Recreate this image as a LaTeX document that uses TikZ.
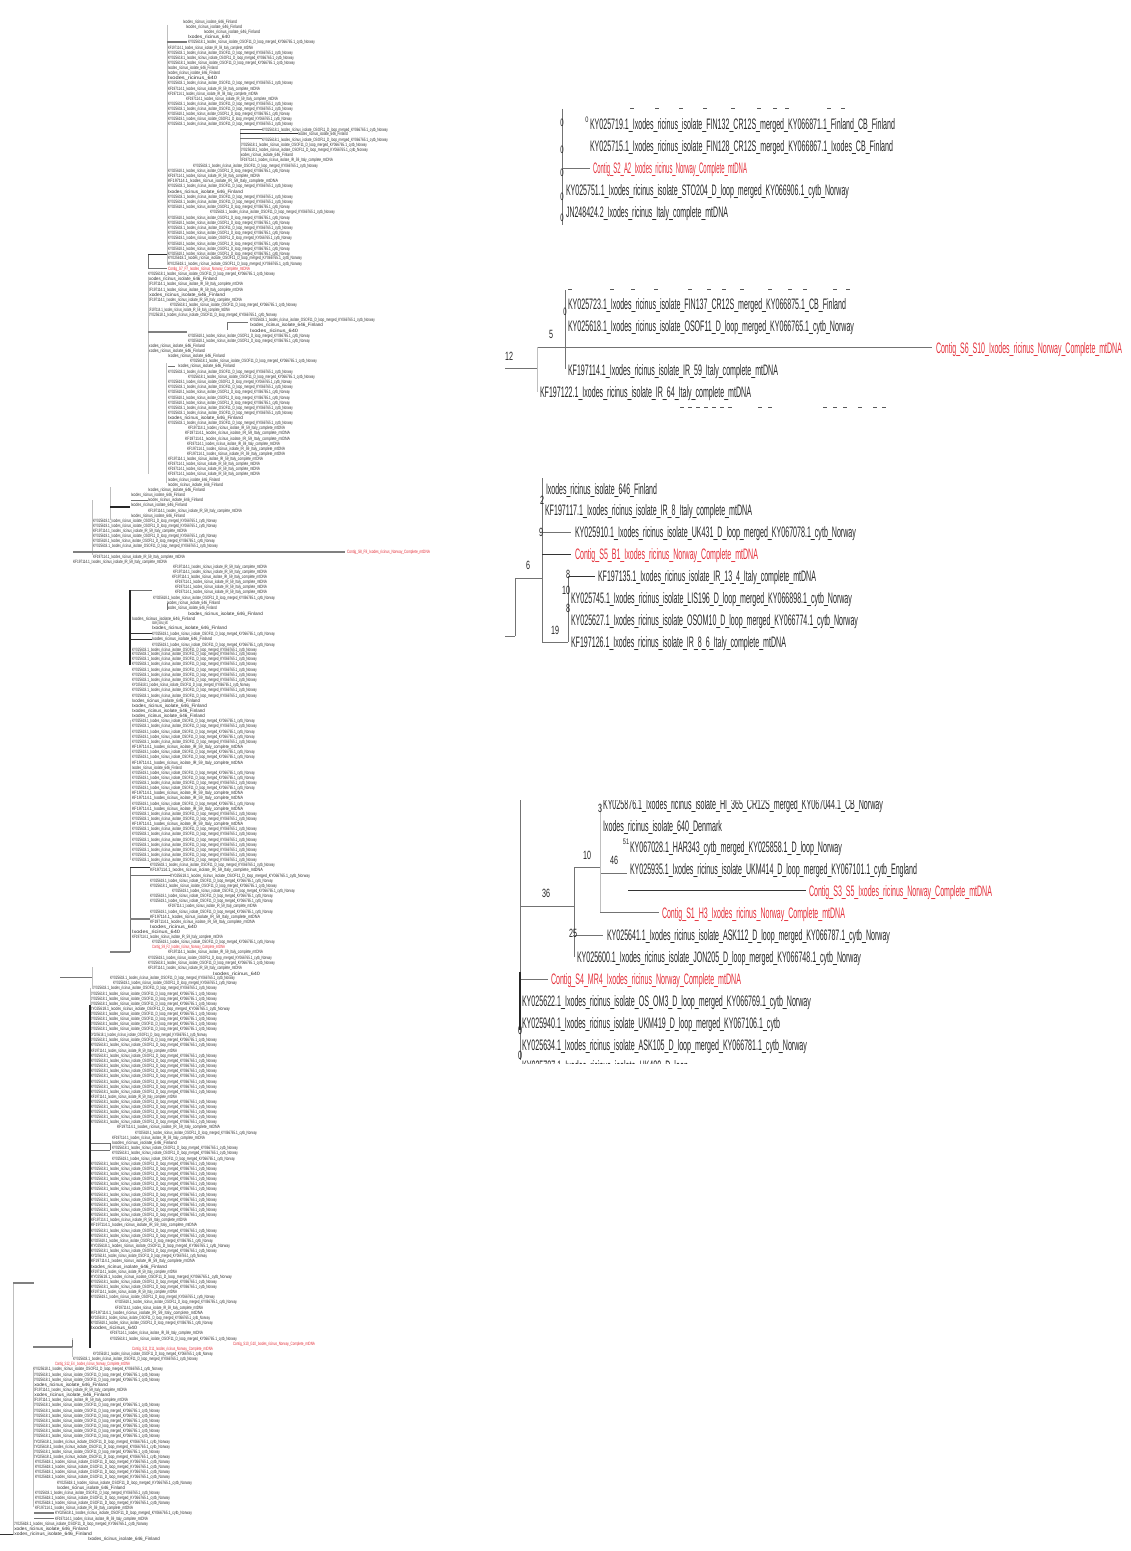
\documentclass[tikz,border=0pt]{standalone}
\usepackage{graphicx}
\usepackage{fontspec}
\setmainfont{Liberation Sans}
\definecolor{redlab}{HTML}{E5303A}
\definecolor{tinygray}{HTML}{303030}
\tikzset{
  leafnode/.style={anchor=base west,inner sep=0pt,outer sep=0pt,text=#1},
  leafnode/.default=black!85,
  numlab/.style={inner sep=0pt,text=black!85,font=\fontsize{12}{12}\selectfont},
  smallnum/.style={inner sep=0pt,text=black!85,font=\fontsize{8}{8}\selectfont},
  bigline/.style={draw=black!55,line width=1bp},
  darkline/.style={draw=black!80,line width=1bp},
  faintline/.style={draw=black!25,line width=.7bp},
  thickgray/.style={draw=black!50,line width=1.4bp},
  thickdark/.style={draw=black!85,line width=1.4bp},
  cutmark/.style={draw=black!65,line width=.9bp},
}
% big readable leaf: name, xstart, xend, y, colour, text
\newcommand{\bigleaf}[6]{%
  \pgfmathsetmacro{\wdw}{#3-#2}%
  \node[leafnode=#5] (#1) at (#2,#4+5.5) {\resizebox{\wdw bp}{11bp}{#6}};}
% tiny rows: y/xstart/xend
\newcommand{\tinyrows}[2]{%
  \foreach \yy/\xa/\xb [count=\cnt] in {#2} {%
    \pgfmathsetmacro{\wdw}{\xb-\xa}%
    \pgfmathtruncatemacro{\wkind}{\wdw<50 ? 0 : (\wdw<80 ? 1 : (\wdw<115 ? 2 : 3))}%
    \node[leafnode=tinygray] (#1\cnt) at (\xa,\yy+1.7) {\resizebox{\wdw bp}{3.4bp}{%
      \ifcase\wkind Ixodes\_ricinus\_640\or
      Ixodes\_ricinus\_isolate\_646\_Finland\or
      KF197114.1\_Ixodes\_ricinus\_isolate\_IR\_59\_Italy\_complete\_mtDNA\else
      KY025618.1\_Ixodes\_ricinus\_isolate\_OSOF11\_D\_loop\_merged\_KY066765.1\_cytb\_Norway\fi}};}}
% tiny red rows: y/xstart/xend/contig
\newcommand{\tinyred}[2]{%
  \foreach \yy/\xa/\xb/\cg [count=\cnt] in {#2} {%
    \pgfmathsetmacro{\wdw}{\xb-\xa}%
    \node[leafnode=redlab] (#1\cnt) at (\xa,\yy+1.7) {\resizebox{\wdw bp}{3.4bp}{Contig\_\cg\_Ixodes\_ricinus\_Norway\_Complete\_mtDNA}};}}
% connector list: x1/y1/x2/y2
\newcommand{\links}[3]{%
  \foreach \xa/\ya/\xb/\yb [count=\cnt] in {#3} {%
    \coordinate (#1a\cnt) at (\xa,\ya);\coordinate (#1b\cnt) at (\xb,\yb);
    \draw[#2] (#1a\cnt) -- (#1b\cnt);}}
\begin{document}
\begin{tikzpicture}[x=1bp,y=-1bp]
\useasboundingbox (0,0) rectangle (1130,1551);
\fill[white] (0,0) rectangle (1130,1551);

% ---------- left column: tiny rows ----------
\tinyrows{t}{
21.7/183/237, 26.7/186/242, 31.7/204/260, 36.7/188/230, 42/188/315, 47.7/168/253, 52.7/168/293, 58/168/294, 63/168/295,
68.3/168/218, 73.3/168/220, 78.3/168/217, 83.3/168/293, 88.7/168/260, 93.7/168/258, 99/186/278, 104/168/293, 109.3/168/293,
114.3/168/290, 119.3/168/292, 124.3/168/293, 129.7/262/388, 134.3/298/348, 139.7/262/388, 145/240/367, 150.3/240/368,
155.3/240/293, 160.3/240/333, 165.7/193/318, 170.7/168/290, 175.7/168/260, 180.7/168/278, 186/168/293, 191.3/168/243,
196.7/168/293, 201.7/168/293, 206.7/168/290, 211.7/210/335, 217.3/168/290, 222.3/168/290, 227.7/168/293, 232.7/168/290,
238/168/292, 243.3/168/290, 248.3/168/290, 253.3/168/290, 258/168/302, 263.3/168/302,
273.3/148/275, 278.7/148/217, 284/148/243, 289.3/148/243, 294.3/148/225, 299.7/148/242, 304.7/170/297, 309.7/148/230,
315/148/277, 320/250/375, 325/250/323, 330.3/250/298, 335.3/188/310, 340.7/188/310, 345.7/148/205, 350.7/148/205,
356/168/225, 361/190/317, 366/178/235, 371.3/168/293, 376.7/188/315, 381.7/168/292, 387/168/293, 392/168/290, 397.3/168/290,
402.3/168/290, 407.3/168/293, 412.3/168/293, 417.7/168/243, 422.7/168/293, 427.7/188/285, 433/185/290, 438.3/185/290,
443.3/187/280, 448.7/187/285, 453.7/187/285, 458.7/168/263, 464/168/260, 469/168/260, 474/168/260, 479.3/168/220, 484.3/168/223,
489.7/148/205, 494.7/131/185, 500/148/203, 505/131/187, 510.3/148/242, 515.7/131/185, 520.7/93/217, 525.7/93/217, 530.7/93/187,
536/93/217, 541/93/215, 546/93/218, 556.7/93/185, 561.7/73/167,
566.7/173/267, 571.7/173/267, 576.7/172/267, 581.7/175/267, 586.7/175/267, 592/175/267, 597.7/153/275, 603/167/220, 608/167/217,
613.7/188/263, 618.3/132/195, 623/152/168, 628/152/227, 633.7/152/275, 639/152/212, 644.3/152/275, 649.3/132/257, 654/132/257,
659/132/257, 664/132/257, 669.7/132/257, 674.3/132/257, 679.7/132/257, 685/132/250, 690/132/257, 695.7/132/257, 700.7/132/200,
705.7/132/207, 711/132/205, 716/132/205, 721/132/255, 726/132/257, 731.3/132/255, 736.3/132/255, 741.7/132/257, 746.7/132/243,
752/132/255, 757/132/255, 762.3/132/243, 767.3/132/182, 772.3/132/255, 777.3/132/255, 782.7/132/257, 788/132/255, 793/132/243,
798/132/243, 803.3/132/255, 808.3/132/243, 813.7/132/257, 818.7/132/257, 824/132/243, 829/132/257, 834/132/257, 839.3/132/257,
844.3/132/257, 849.7/132/257, 854.7/132/257, 859.7/132/257,
865/150/275, 870/150/263, 875.3/170/310, 880.7/150/273, 885.7/150/277, 891/172/295, 895.7/150/273, 900.7/150/273, 906/168/257,
911.3/150/273, 916.3/150/260, 921.7/150/255, 926.7/150/197, 932/132/180, 937/132/223, 942/152/275, 952/168/263, 957.3/148/272,
962.3/148/275, 967.3/148/242, 973.3/213/260, 978/110/235, 983/113/237,
988/92/217, 993.3/90/217, 998.3/90/217, 1003.7/90/217, 1008.7/90/230, 1014/90/217, 1019/90/217, 1024/90/217, 1029/90/217,
1034.3/90/207, 1039.7/90/217, 1045/91/217, 1050.3/91/177, 1055.7/91/217, 1060.7/91/217, 1066/91/217, 1071/91/217, 1076/91/217,
1081.3/91/217, 1086.3/91/217, 1091.7/91/217, 1096.7/91/177, 1102/91/217, 1106.7/91/217, 1112/91/217, 1117/91/217, 1122/91/217,
1127/117/220, 1132.3/135/257, 1137.7/112/205, 1142.7/112/177, 1148/112/238, 1153/112/238, 1158.3/112/235, 1163.7/91/217,
1168.3/91/217, 1173.3/91/217, 1178.7/91/217, 1183.7/91/217, 1189/91/217, 1194.3/91/217, 1199.3/91/217, 1204.3/91/217,
1209.7/91/217, 1214.7/91/217, 1220/91/187, 1225/91/197, 1230.3/91/217, 1235.3/91/217, 1240.3/91/213, 1245.7/91/230, 1250.7/91/217,
1256/91/207, 1261/91/195, 1266.3/91/167, 1271.7/91/177, 1276.7/91/232, 1282/91/217, 1287/91/217, 1292/91/177, 1297/91/215,
1302/115/237, 1307.3/115/203, 1312.3/91/203, 1317.7/91/210, 1322.7/91/213, 1327.7/91/137, 1333/110/203, 1338.3/110/237,
1353.3/93/213, 1358.7/73/198, 1369/33/163, 1374.3/33/160, 1379.3/33/160, 1384.3/33/108, 1389.7/33/127, 1395/33/110, 1400/33/128,
1405/33/160, 1410.3/33/160, 1415.3/33/160, 1420.7/33/160, 1425.7/33/160, 1431/33/160, 1436/33/160, 1441.3/33/170, 1446.3/33/170,
1451.3/33/160, 1456.7/33/170, 1461.7/35/170, 1466.7/35/170, 1472/35/170, 1477/35/170, 1482.3/57/192, 1487.3/57/125, 1492.7/35/160,
1497.3/35/170, 1502.3/35/170, 1507.7/35/133, 1513/55/192, 1518.3/55/148, 1523.7/13/148, 1528.7/13/88, 1534/13/92, 1539/88/160
}
\tinyred{v}{
268.3/168/250/S7\_F7, 552/347/430/S8\_F8, 947/152/225/S9\_F2, 1343.3/233/315/S10\_G10, 1348.3/132/213/S11\_D11, 1363.7/55/130/S12\_E4
}

% ---------- left column: branches ----------
\links{fa}{faintline}{167/25/167/265, 148/277/148/474, 166/363/166/483, 110/487/110/520, 92/500/92/555, 130/720/130/860, 92/967/92/988, 33/1369/33/1507, 13/1283/13/1534, 240/135/240/160, 72/1338/72/1357, 240/129/240/135, 90/988/90/1005}
\links{gl}{bigline}{148/268/167/268, 148/332/166/332, 131/500/148/500, 227/322/248/322, 227/322/227/330, 168/366/175/366, 130/875/170/875, 130/867/130/952, 60/977/92/977, 72/1347/72/1340, 240/130/262/130, 240/139/262/139, 110/1143/90/1143, 110/1150/90/1150, 110/1143/110/1150, 34/1518/54/1518, 167/603/167/610, 130/590/152/590, 148/254/148/268}
\links{tg}{thickgray}{167/42/187/42, 148/332/187/332, 73/552/345/552, 110/952/130/952, 33/1347/72/1347, 34/1513/54/1513, 13/1283/34/1283, 130/919/150/919}
\links{dk}{darkline}{148/254/167/254, 240/134/298/134, 130/633/152/633, 130/639/152/639, 130/867/150/867, 0/1534/13/1534}
\links{th}{thickdark}{110/507/130/507, 130/590/130/665, 90/1005/90/1348}

% ---------- panel 1 ----------
\foreach \xx [count=\cnt] in {632,657,681,705,733,759,775,787,829,843}{
  \coordinate (ua\cnt) at (\xx-2,108.5);\coordinate (ub\cnt) at (\xx+2,108.5);\draw[cutmark] (ua\cnt)--(ub\cnt);}
\bigleaf{p1a}{590}{895}{124}{black!85}{KY025719.1\_Ixodes\_ricinus\_isolate\_FIN132\_CR12S\_merged\_KY066871.1\_Finland\_CB\_Finland}
\bigleaf{p1b}{590}{893}{146}{black!85}{KY025715.1\_Ixodes\_ricinus\_isolate\_FIN128\_CR12S\_merged\_KY066867.1\_Ixodes\_CB\_Finland}
\bigleaf{p1c}{593}{747}{168}{redlab}{Contig\_S2\_A2\_Ixodes\_ricinus\_Norway\_Complete\_mtDNA}
\bigleaf{p1d}{566}{849}{190}{black!85}{KY025751.1\_Ixodes\_ricinus\_isolate\_STO204\_D\_loop\_merged\_KY066906.1\_cytb\_Norway}
\bigleaf{p1e}{566}{728}{212}{black!85}{JN248424.2\_Ixodes\_ricinus\_Italy\_complete\_mtDNA}
\coordinate (p1t) at (562,109);\coordinate (p1u) at (562,225);\coordinate (p1j) at (562,168);\coordinate (p1q) at (590,168);
\draw[bigline] (p1t)--(p1u);
\draw[bigline] (p1j)--(p1q);
\foreach \xx/\yy/\lbl [count=\cnt] in {562/123/0,562/150/0,562/173/0,562/197/0,562/218/0}{
  \node[numlab] (p1n\cnt) at (\xx,\yy) {\scalebox{.5}[.9]{\lbl}};}
\node[smallnum] (p1s) at (587,120) {\scalebox{.7}[1]{0}};

% ---------- panel 2 ----------
\foreach \xx [count=\cnt] in {570,612,633,656,690,709,724,742,770,790,805,835,848}{
  \coordinate (va\cnt) at (\xx-2,289);\coordinate (vb\cnt) at (\xx+2,289);\draw[cutmark] (va\cnt)--(vb\cnt);}
\foreach \xx [count=\cnt] in {682,690,698,706,714,722,730,760,770,825,835,845,860,875,884}{
  \coordinate (wa\cnt) at (\xx-2,407.5);\coordinate (wb\cnt) at (\xx+2,407.5);\draw[cutmark] (wa\cnt)--(wb\cnt);}
\bigleaf{p2a}{568}{846}{304}{black!85}{KY025723.1\_Ixodes\_ricinus\_isolate\_FIN137\_CR12S\_merged\_KY066875.1\_CB\_Finland}
\bigleaf{p2b}{568}{854}{326}{black!85}{KY025618.1\_Ixodes\_ricinus\_isolate\_OSOF11\_D\_loop\_merged\_KY066765.1\_cytb\_Norway}
\bigleaf{p2c}{936}{1122}{348}{redlab}{Contig\_S6\_S10\_Ixodes\_ricinus\_Norway\_Complete\_mtDNA}
\bigleaf{p2d}{568}{778}{370}{black!85}{KF197114.1\_Ixodes\_ricinus\_isolate\_IR\_59\_Italy\_complete\_mtDNA}
\bigleaf{p2e}{540}{751}{392}{black!85}{KF197122.1\_Ixodes\_ricinus\_isolate\_IR\_64\_Italy\_complete\_mtDNA}
\coordinate (p2t) at (565,290);\coordinate (p2u) at (565,369);\coordinate (p2j) at (537,347);\coordinate (p2k) at (537,392);
\coordinate (p2r) at (505,368);\coordinate (p2s) at (537,368);\coordinate (p2e1) at (932,347);
\draw[bigline] (p2t)--(p2u);
\draw[bigline] (p2j)--(p2e1);
\draw[faintline] (p2j)--(p2k);
\draw[bigline] (p2r)--(p2s);
\node[numlab] (p2n1) at (565,312) {\scalebox{.5}[.9]{0}};
\node[numlab] (p2n2) at (551,334) {\scalebox{.6}[1]{5}};
\node[numlab] (p2n3) at (509,356) {\scalebox{.6}[1]{12}};

% ---------- panel 3 ----------
\bigleaf{p3a}{546}{657}{489}{black!85}{Ixodes\_ricinus\_isolate\_646\_Finland}
\bigleaf{p3b}{545}{752}{510}{black!85}{KF197117.1\_Ixodes\_ricinus\_isolate\_IR\_8\_Italy\_complete\_mtDNA}
\bigleaf{p3c}{575}{856}{532}{black!85}{KY025910.1\_Ixodes\_ricinus\_isolate\_UK431\_D\_loop\_merged\_KY067078.1\_cytb\_Norway}
\bigleaf{p3d}{575}{758}{554}{redlab}{Contig\_S5\_B1\_Ixodes\_ricinus\_Norway\_Complete\_mtDNA}
\bigleaf{p3e}{598}{816}{576}{black!85}{KF197135.1\_Ixodes\_ricinus\_isolate\_IR\_13\_4\_Italy\_complete\_mtDNA}
\bigleaf{p3f}{571}{852}{598}{black!85}{KY025745.1\_Ixodes\_ricinus\_isolate\_LIS196\_D\_loop\_merged\_KY066898.1\_cytb\_Norway}
\bigleaf{p3g}{571}{858}{620}{black!85}{KY025627.1\_Ixodes\_ricinus\_isolate\_OSOM10\_D\_loop\_merged\_KY066774.1\_cytb\_Norway}
\bigleaf{p3h}{571}{786}{642}{black!85}{KF197126.1\_Ixodes\_ricinus\_isolate\_IR\_8\_6\_Italy\_complete\_mtDNA}
\links{pt}{bigline}{542/478/542/642, 542/532/571/532, 515/578/542/578, 515/578/515/636, 542/642/568/642, 568/576/568/642, 505/636/515/636}
\links{pk}{darkline}{542/554/571/554, 569/576/595/576}
\foreach \xx/\yy/\lbl [count=\cnt] in {542/500/2,541/532/9,528/565/6,568/574/8,566/590/10,568/608/8,555/630/19}{
  \node[numlab] (p3n\cnt) at (\xx,\yy) {\scalebox{.6}[1]{\lbl}};}

% ---------- panel 4 ----------
\begin{scope}
\clip (500,800) rectangle (1130,1063);
\bigleaf{p4a}{603}{883}{804}{black!85}{KY025876.1\_Ixodes\_ricinus\_isolate\_HI\_365\_CR12S\_merged\_KY067044.1\_CB\_Norway}
\bigleaf{p4m}{522}{688}{1066}{black!85}{KY025787.1\_Ixodes\_ricinus\_isolate\_UK480\_D\_loop}
\end{scope}
\bigleaf{p4b}{603}{722}{826}{black!85}{Ixodes\_ricinus\_isolate\_640\_Denmark}
\bigleaf{p4c}{630}{842}{847}{black!85}{KY067028.1\_HAR343\_cytb\_merged\_KY025858.1\_D\_loop\_Norway}
\bigleaf{p4d}{630}{917}{869}{black!85}{KY025935.1\_Ixodes\_ricinus\_isolate\_UKM414\_D\_loop\_merged\_KY067101.1\_cytb\_England}
\bigleaf{p4e}{809}{992}{891}{redlab}{Contig\_S3\_S5\_Ixodes\_ricinus\_Norway\_Complete\_mtDNA}
\bigleaf{p4f}{662}{845}{913}{redlab}{Contig\_S1\_H3\_Ixodes\_ricinus\_Norway\_Complete\_mtDNA}
\bigleaf{p4g}{607}{890}{935}{black!85}{KY025641.1\_Ixodes\_ricinus\_isolate\_ASK112\_D\_loop\_merged\_KY066787.1\_cytb\_Norway}
\bigleaf{p4h}{577}{861}{957}{black!85}{KY025600.1\_Ixodes\_ricinus\_isolate\_JON205\_D\_loop\_merged\_KY066748.1\_cytb\_Norway}
\bigleaf{p4i}{551}{741}{979}{redlab}{Contig\_S4\_MR4\_Ixodes\_ricinus\_Norway\_Complete\_mtDNA}
\bigleaf{p4j}{522}{811}{1001}{black!85}{KY025622.1\_Ixodes\_ricinus\_isolate\_OS\_OM3\_D\_loop\_merged\_KY066769.1\_cytb\_Norway}
\bigleaf{p4k}{522}{780}{1023}{black!85}{KY025940.1\_Ixodes\_ricinus\_isolate\_UKM419\_D\_loop\_merged\_KY067106.1\_cytb}
\bigleaf{p4l}{522}{807}{1045}{black!85}{KY025634.1\_Ixodes\_ricinus\_isolate\_ASK105\_D\_loop\_merged\_KY066781.1\_cytb\_Norway}
\links{qa}{bigline}{520/800/520/972, 520/906/574/906, 574/867/574/957, 574/867/600/867, 600/873/627/873, 600/912/659/912, 574/935/603/935, 520/979/548/979}
\links{qb}{faintline}{600/805/600/912}
\links{qc}{darkline}{628/890/806/890}
\links{qd}{thickdark}{520/972/520/1030}
\links{qe}{bigline}{520/1030/520/1060}
\foreach \xx/\yy/\lbl [count=\cnt] in {600/808/3,587/855/10,614/860/46,546/893/36,573/933/25,520/1030/0,520/1055/0}{
  \node[numlab] (p4n\cnt) at (\xx,\yy) {\scalebox{.6}[1]{\lbl}};}
\node[smallnum] (p4s) at (626,842) {\scalebox{.7}[1]{51}};
\end{tikzpicture}
\end{document}
